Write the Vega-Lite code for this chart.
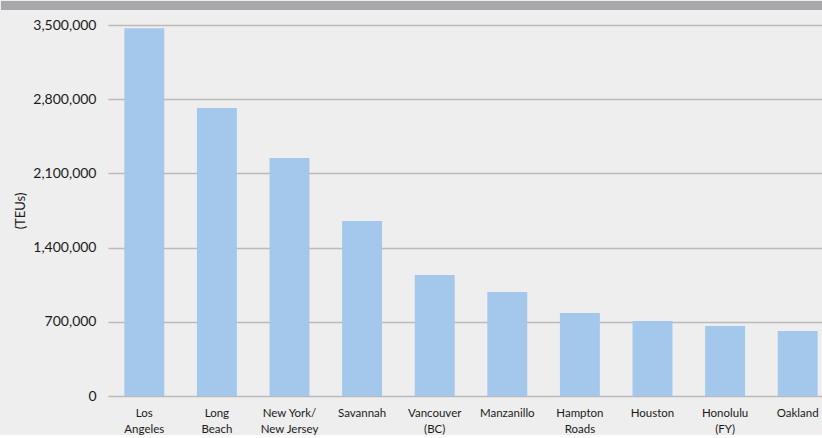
{
  "$schema": "https://vega.github.io/schema/vega-lite/v6.json",
  "background": "#eeeeee",
  "padding": 0,
  "columns": 1,
  "align": "none",
  "bounds": "full",
  "spacing": 8,
  "config": {
    "view": {"stroke": null},
    "font": "Lato"
  },
  "concat": [
    {
      "width": 834,
      "height": 9,
      "view": {"fill": "#a8a8aa", "stroke": null},
      "data": {"values": [{}]},
      "mark": {"type": "rule", "opacity": 0},
      "encoding": {}
    },
    {
      "spacing": 12,
      "hconcat": [
        {
          "width": 1,
          "height": 371,
          "data": {"values": [{}]},
          "mark": {"type": "rule", "opacity": 0},
          "encoding": {}
        },
        {
          "width": 726,
          "height": 371,
          "data": {
            "values": [
              {"port": "Los Angeles", "teu": 3470000},
              {"port": "Long Beach", "teu": 2717000},
              {"port": "New York/New Jersey", "teu": 2245000},
              {"port": "Savannah", "teu": 1651000},
              {"port": "Vancouver (BC)", "teu": 1141000},
              {"port": "Manzanillo", "teu": 981000},
              {"port": "Hampton Roads", "teu": 783000},
              {"port": "Houston", "teu": 708000},
              {"port": "Honolulu (FY)", "teu": 660000},
              {"port": "Oakland", "teu": 613000}
            ]
          },
          "mark": {"type": "bar", "color": "#a3c8ec"},
          "encoding": {
            "x": {
              "field": "port",
              "type": "nominal",
              "sort": null,
              "scale": {"paddingInner": 0.45, "paddingOuter": 0.225},
              "axis": {
                "title": null,
                "labelAngle": 0,
                "domain": false,
                "ticks": false,
                "tickSize": 0,
                "labelPadding": 11,
                "labelFontSize": 11.5,
                "labelColor": "#1a1a1a",
                "labelLineHeight": 16.5,
                "labelBaseline": "top",
                "labelExpr": "datum.value == 'New York/New Jersey' ? ['New York/', 'New Jersey'] : split(datum.value, ' ')"
              }
            },
            "y": {
              "field": "teu",
              "type": "quantitative",
              "scale": {"domain": [0, 3500000], "nice": false},
              "axis": {
                "title": "(TEUs)",
                "titleFontSize": 13,
                "titleFontWeight": "normal",
                "titleColor": "#1a1a1a",
                "titlePadding": 5,
                "values": [0, 700000, 1400000, 2100000, 2800000, 3500000],
                "format": ",d",
                "domain": false,
                "ticks": false,
                "tickSize": 0,
                "labelPadding": 12,
                "labelFontSize": 14,
                "labelColor": "#1a1a1a",
                "grid": true,
                "gridColor": "#bababa",
                "gridWidth": 1.6
              }
            }
          }
        }
      ]
    }
  ]
}
